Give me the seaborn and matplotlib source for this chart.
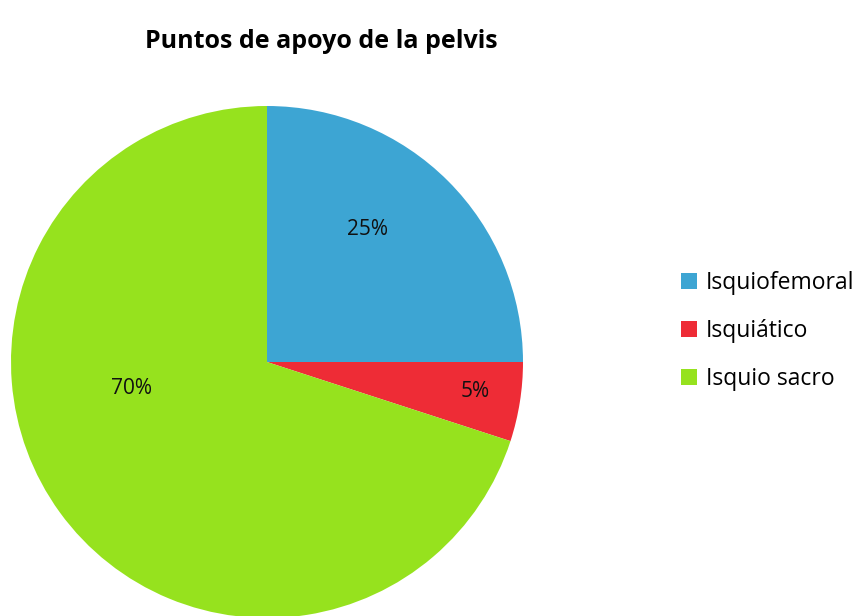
'''
    Pie chart: puntos de apoyo de la pelvis
'''

import matplotlib
matplotlib.use('Agg')
import matplotlib.pyplot as plt
import seaborn as sns
import numpy as np

categories = ['Isquiofemoral', 'Isquiático', 'Isquio sacro']
values = [25, 5, 70]
colors = ['#3DA5D3', '#EE2C36', '#96E21E']

# label positions (radius fraction, angle in degrees)
label_pos = [(0.65, 53), (0.82, -8), (0.54, 191)]

sns.set_theme(style='white')
plt.rcParams['font.family'] = ['Open Sans', 'DejaVu Sans']
plt.rcParams['text.color'] = 'black'

fig = plt.figure(figsize=(8.67, 6.16), dpi=100)
ax = fig.add_axes([11 / 867, -2 / 616, 512 / 867, 512 / 616])

wedges, _ = ax.pie(values, colors=colors, startangle=90, counterclock=False,
                   radius=1, wedgeprops=dict(linewidth=0))
for w in wedges:
    w.set_clip_on(False)
ax.set_xlim(-1, 1)
ax.set_ylim(-1, 1)
ax.set_aspect('equal')
ax.axis('off')

for v, (r, a) in zip(values, label_pos):
    ax.text(r * np.cos(np.radians(a)), r * np.sin(np.radians(a)), f'{v}%',
            ha='center', va='center', fontsize=15, color='#111111')

fig.text(321 / 867, 1 - 42 / 616, 'Puntos de apoyo de la pelvis',
         ha='center', va='center', fontsize=18, fontweight='bold')

fig.legend(wedges, categories, loc='center left',
           bbox_to_anchor=(681 / 867, 1 - 331 / 616), frameon=False,
           fontsize=16.5, handlelength=0.7, handleheight=0.7,
           handletextpad=0.4, labelspacing=1.05, borderaxespad=0,
           borderpad=0)

fig.savefig('out.png', dpi=100)
